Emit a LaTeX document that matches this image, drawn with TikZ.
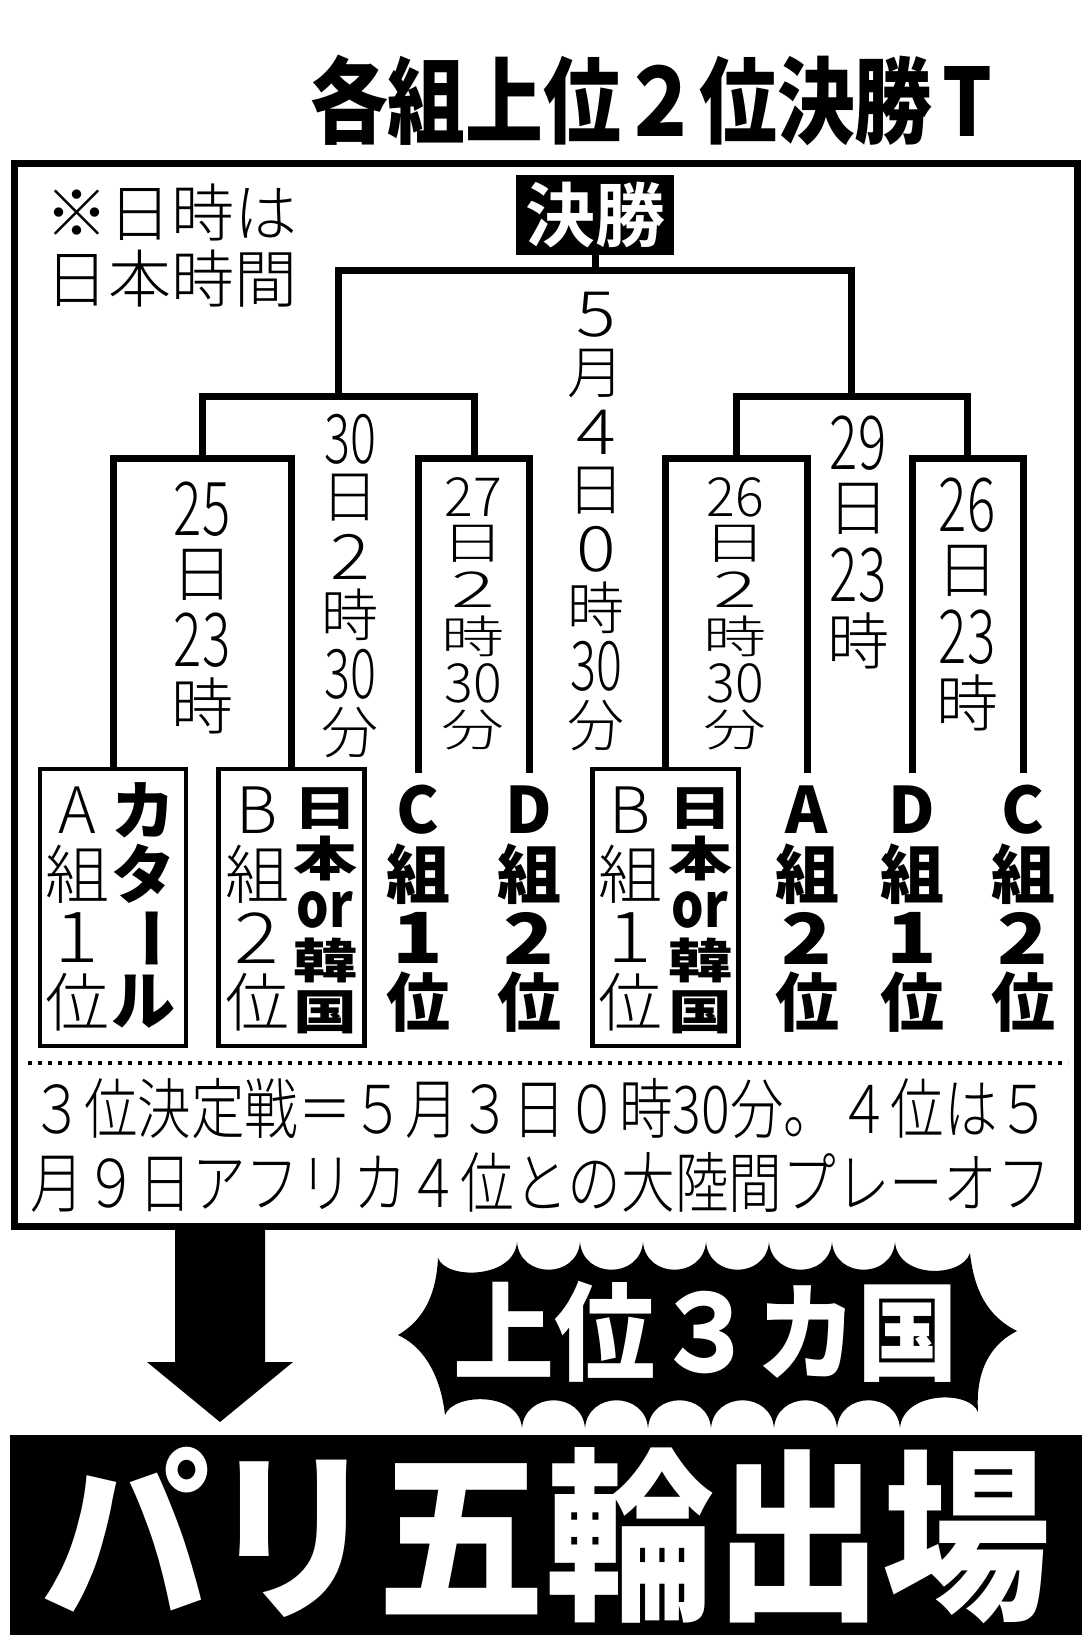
\documentclass[tikz,border=0pt]{standalone}
\usepackage{fontspec}
\setmainfont{Noto Sans CJK JP}[BoldFont={Noto Sans CJK JP Bold}]
\newfontfamily\thin{Noto Sans CJK JP Light}
\newfontfamily\heavy{Noto Sans CJK JP Black}

% Ziffern im Hochformat
\newcommand\dd[1]{\scalebox{0.85}[1.2]{#1}}
\newcommand\sd[1]{\scalebox{1.3}[1.1]{#1}}
% senkrechte Spalte: Name, x, y, Abstand, Stil, Zeichen
\newcommand\tate[6]{%
  \foreach \lbl [count=\idx] in {#6}
    \node[#5] (#1-\idx) at (#2,{#3+(\idx-1)*#4}) {\scalebox{\colsx}[\colsy]{\lbl}};}

\begin{document}
\begin{tikzpicture}[x=1pt, y=-1pt, line join=miter,
    colsx/.store in=\colsx, colsy/.store in=\colsy, colsx=1, colsy=1,
    glyph/.style={inner sep=0pt, anchor=center},
    datebig/.style={glyph, font=\fontsize{62}{62}\thin},
    datemid/.style={glyph, font=\fontsize{57}{57}\thin},
    dateflat/.style={glyph, font=\fontsize{60}{60}\thin, colsx=1.05, colsy=0.75},
    teamthin/.style={glyph, font=\fontsize{64}{64}\thin},
    teamfat/.style={glyph, font=\fontsize{64}{64}\heavy},
    teamsquash/.style={glyph, font=\fontsize{64}{64}\heavy, colsy=0.74,
        text height=38pt, text depth=3pt},
    bracket/.style={line width=7pt},
    teambox/.style={draw, line width=4.5pt, minimum width=146, minimum height=277, inner sep=0pt},
    teamslot/.style={minimum width=60, minimum height=275, inner sep=0pt}]
        % Umgebung
        \fill[white] (0,0) rectangle (1091,1646);
        \useasboundingbox (0,0) rectangle (1091,1646);

        % Titel
        \node[glyph, font=\fontsize{94}{94}\heavy] (title) at (651,100)
            {\resizebox{682pt}{\height}{各組上位２位決勝\hspace{0.12em}T}};

        % Rahmen
        \draw[line width=7pt] (14,163) rectangle (1077,1226);
        \node[glyph, font=\fontsize{63}{66}\thin, align=left] (note) at (171,246) {※日時は\\日本時間};

        % Finale
        \node[fill=black, text=white, font=\fontsize{70}{70}\selectfont\bfseries,
            minimum width=158, minimum height=80, inner sep=0pt] (final) at (595,215) {決勝};

        % Mannschaften
        \node[teambox] (slot1) at (113,907.5) {};
        \node[teambox] (slot2) at (291.5,907.5) {};
        \node[teamslot] (slot3) at (418,910.5) {};
        \node[teamslot] (slot4) at (529,910.5) {};
        \node[teambox] (slot5) at (665.5,907.5) {};
        \node[teamslot] (slot6) at (807,910.5) {};
        \node[teamslot] (slot7) at (912,910.5) {};
        \node[teamslot] (slot8) at (1023,910.5) {};

        \tate{teamA}{77}{810}{64}{teamthin}{A,組,\sd{1},位}
        \tate{teamB}{143}{810}{64}{teamfat}{カ,タ,\rotatebox{-90}{ー},ル}
        \tate{teamC}{257}{810}{64}{teamthin}{B,組,\sd{2},位}
        \tate{teamD}{325}{808}{51}{teamsquash}{日,本,\scalebox{0.8}[1.3]{or},韓,国}
        \tate{teamE}{418}{810}{64}{teamfat}{C,組,\sd{1},位}
        \tate{teamF}{529}{810}{64}{teamfat}{D,組,\sd{2},位}
        \tate{teamG}{630}{810}{64}{teamthin}{B,組,\sd{1},位}
        \tate{teamH}{700}{808}{51}{teamsquash}{日,本,\scalebox{0.8}[1.3]{or},韓,国}
        \tate{teamI}{807}{810}{64}{teamfat}{A,組,\sd{2},位}
        \tate{teamJ}{912}{810}{64}{teamfat}{D,組,\sd{1},位}
        \tate{teamK}{1023}{810}{64}{teamfat}{C,組,\sd{2},位}

        % Turnierbaum
        \coordinate (q1) at (202,458);
        \coordinate (q2) at (474,458);
        \coordinate (q3) at (736,458);
        \coordinate (q4) at (967,458);
        \coordinate (s1) at (338,396);
        \coordinate (s2) at (851,396);
        \coordinate (f) at (595,270);

        \draw[bracket] (slot1.north) |- (q1) -| (slot2.north);
        \draw[bracket] (slot3.north) |- (q2) -| (slot4.north);
        \draw[bracket] (slot5.north) |- (q3) -| (slot6.north);
        \draw[bracket] (slot7.north) |- (q4) -| (slot8.north);
        \draw[bracket] (q1) |- (s1) -| (q2);
        \draw[bracket] (q3) |- (s2) -| (q4);
        \draw[bracket] (s1) |- (f) -| (s2);
        \draw[bracket] (f) -- (final.south);

        % Termine
        \tate{date1}{202}{509}{65.5}{datebig}{\dd{25},日,\dd{23},時}
        \tate{date2}{350}{439}{58.7}{datemid}{\dd{30},日,\sd{2},時,\dd{30},分}
        \tate{date3}{473}{497}{46.5}{dateflat}{\dd{27},日,\sd{2},時,\dd{30},分}
        \tate{date4}{596}{315}{58.6}{datemid}{\sd{5},月,\sd{4},日,\sd{0},時,\dd{30},分}
        \tate{date5}{735}{497}{46.5}{dateflat}{\dd{26},日,\sd{2},時,\dd{30},分}
        \tate{date6}{858}{443}{66}{datebig}{\dd{29},日,\dd{23},時}
        \tate{date7}{967}{505}{66}{datebig}{\dd{26},日,\dd{23},時}

        % Spiel um Platz 3
        \draw[line width=4pt, dash pattern=on 4pt off 6pt] (28,1063) -- (1068,1063);
        \node[glyph, font=\fontsize{66}{66}\thin] (third) at (541,1109)
            {\resizebox{1020pt}{\height}{３位決定戦＝５月３日０時30分。４位は５}};
        \node[glyph, font=\fontsize{66}{66}\thin] (fourth) at (541,1182)
            {\resizebox{1020pt}{\height}{月９日アフリカ４位との大陸間プレーオフ}};

        % Pfeil
        \fill (175,1229) -- (265,1229) -- (265,1362) -- (293,1362) -- (220,1422)
            -- (147,1362) -- (175,1362) -- cycle;

        % Stern
        \fill (438,1258) .. controls +(8,22) and +(-3,37) .. (517,1242)
            \foreach \k in {1,...,6} { .. controls +(3,37) and +(-3,37) .. ++(63,0) }
            .. controls +(3,37) and +(-8,25) .. (970,1253)
            .. controls (975,1300) and (995,1320) .. (1017,1331)
            .. controls (995,1342) and (975,1365) .. (978,1412)
            .. controls +(-8,-22) and +(3,-37) .. (900,1428)
            \foreach \k in {1,...,6} { .. controls +(-3,-37) and +(3,-37) .. ++(-63,0) }
            .. controls +(-3,-37) and +(8,-22) .. (445,1415)
            .. controls (440,1370) and (420,1345) .. (398,1335)
            .. controls (420,1322) and (436,1300) .. (438,1258) -- cycle;
        \node[glyph, text=white, font=\fontsize{107}{107}\heavy] (top3) at (706,1332)
            {\resizebox{505pt}{\height}{上位３カ国}};

        % Olympia
        \node[fill=black, text=white, minimum width=1072, minimum height=200, inner sep=0pt,
            font=\fontsize{185}{185}\heavy] (paris) at (546,1535)
            {\resizebox{1009pt}{\height}{パリ五輪出場}};

    \end{tikzpicture}
\end{document}
